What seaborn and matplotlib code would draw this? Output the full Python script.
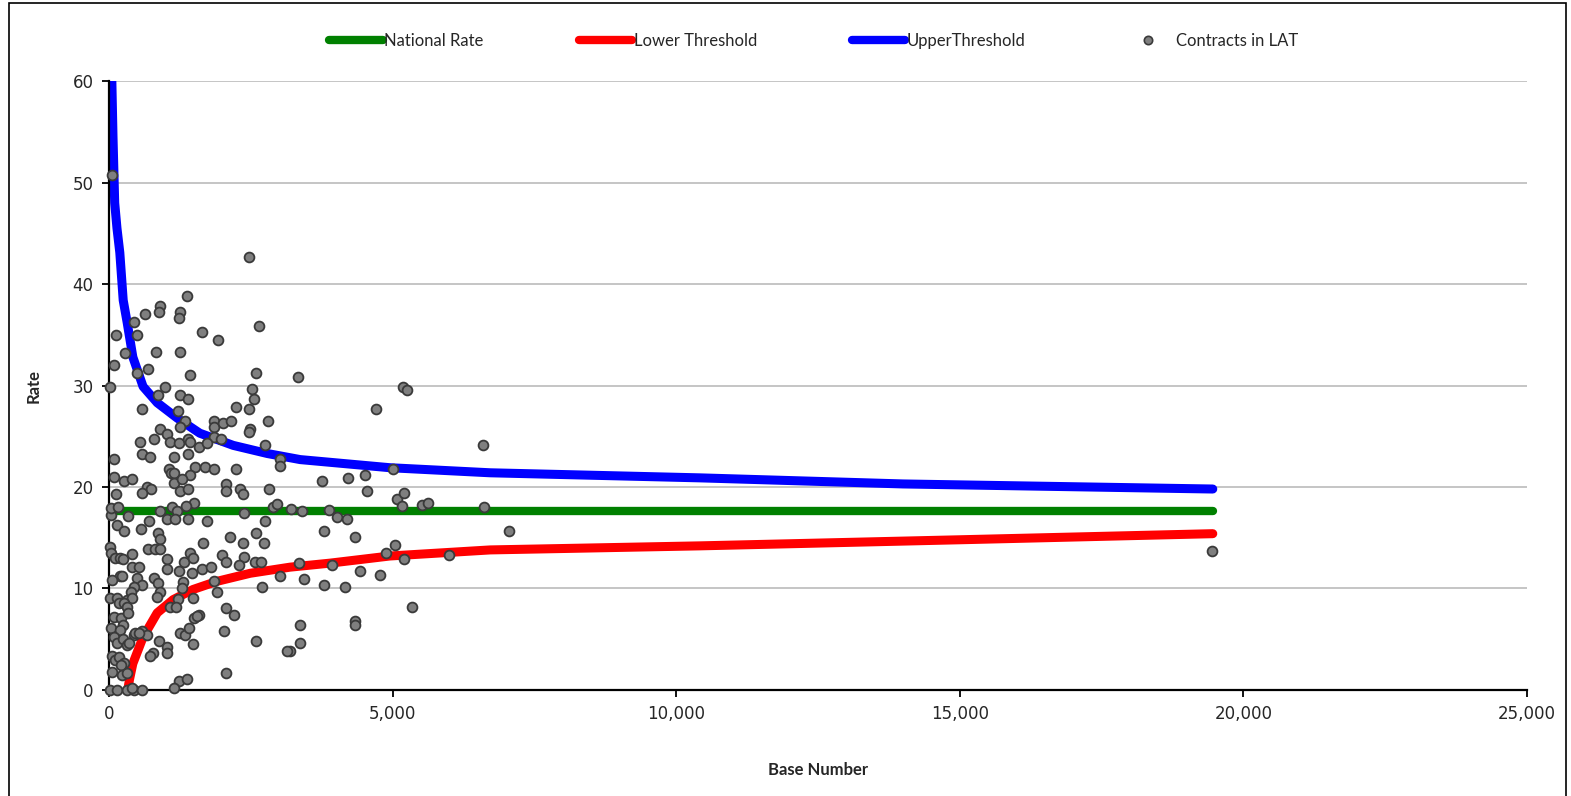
import matplotlib
matplotlib.use("Agg")
import matplotlib.pyplot as plt
from matplotlib.lines import Line2D
from matplotlib.patches import Rectangle
from matplotlib.ticker import FuncFormatter
import seaborn as sns
import pandas as pd

# Funnel limits
upper_x = [30, 50, 70, 100, 140, 190, 250, 320, 420, 600, 850, 1200, 1600, 2190, 2790, 3370,
           4950, 6720, 10420, 14000, 19460]
upper_y = [62.0, 59.9, 54.5, 48.0, 45.5, 43.1, 38.4, 36.2, 32.8, 29.9, 28.3, 26.8, 25.3, 24.1, 23.3, 22.7,
           21.9, 21.4, 20.9, 20.3, 19.8]

lower_x = [330, 360, 420, 600, 850, 1130, 1480, 1900, 2490, 3190, 3900, 4950, 6720, 10420, 15000, 19460]
lower_y = [0.0, 1.0, 2.6, 5.2, 7.6, 8.9, 9.9, 10.7, 11.5, 12.1, 12.5, 13.2, 13.8, 14.2, 14.8, 15.4]

national_x = [20, 19460]
national_y = [17.6, 17.6]

# Contracts in LAT (base number, rate)
contract_x = [
    55, 2470, 1375, 900, 880, 1250, 1235, 635, 440, 125, 495, 1640, 1920, 2645, 280, 830, 1250, 90,
    690, 495, 1430, 2590, 3330, 20, 990, 2520, 5180, 5250, 865, 1250, 1390, 2555, 580, 1215, 2240,
    2470, 4710, 1340, 1250, 1850, 1850, 2010, 2150, 2800, 900, 1020, 790, 1075, 1235, 1390, 1430,
    545, 1850, 1975, 2485, 2470, 1585, 1730, 580, 720, 1145, 1390, 2750, 3015, 3015, 90, 1060,
    1095, 1145, 1515, 1690, 1850, 2240, 1430, 90, 265, 405, 1145, 1285, 2060, 2060, 2310, 2360,
    2820, 670, 740, 580, 1250, 1390, 125, 6590, 5005, 4515, 4215, 3755, 4550, 5080, 5200, 5520,
    5625, 6610, 3400, 4020, 4195, 3790, 4335, 5040, 4885, 5200, 5995, 3350, 3930, 3440, 4425,
    4780, 3790, 4160, 5340, 4335, 4335, 3365, 3365, 3190, 7050, 19445, 35, 35, 160, 335, 900,
    1110, 1200, 1020, 1165, 1390, 1500, 1360, 1730, 2380, 2750, 2890, 2960, 705, 140, 265, 565,
    865, 900, 1655, 2135, 2360, 2590, 2730, 20, 35, 690, 810, 900, 1430, 405, 105, 195, 245, 1020,
    1320, 1480, 1990, 2060, 2380, 2290, 2575, 2680, 405, 530, 1020, 1235, 1465, 1640, 1800, 195,
    230, 495, 795, 865, 1305, 1850, 3015, 55, 580, 440, 390, 900, 845, 1285, 1905, 2700, 20, 140,
    315, 405, 1215, 1480, 175, 265, 315, 1075, 1180, 90, 210, 335, 1500, 1585, 1550, 2060, 2205,
    35, 245, 195, 440, 580, 670, 460, 530, 1250, 1340, 1410, 2030, 2590, 3140, 90, 140, 245, 315,
    350, 880, 1020, 1020, 1480, 775, 720, 55, 105, 175, 265, 210, 55, 230, 315, 1235, 1375, 2060,
    1145, 20, 140, 315, 440, 580, 405, 3210, 3880, 5170,
]
contract_y = [
    50.7, 42.7, 38.8, 37.8, 37.2, 37.2, 36.7, 37.0, 36.3, 35.0, 35.0, 35.3, 34.5, 35.9, 33.2, 33.3,
    33.3, 32.0, 31.6, 31.2, 31.0, 31.2, 30.8, 29.9, 29.9, 29.7, 29.9, 29.6, 29.1, 29.1, 28.7, 28.7,
    27.7, 27.5, 27.9, 27.7, 27.7, 26.5, 25.9, 26.5, 25.9, 26.3, 26.5, 26.5, 25.7, 25.2, 24.7, 24.4,
    24.3, 24.7, 24.4, 24.4, 24.9, 24.7, 25.7, 25.4, 23.9, 24.3, 23.3, 23.0, 23.0, 23.3, 24.1, 22.8,
    22.1, 22.8, 21.8, 21.4, 21.4, 22.0, 22.0, 21.8, 21.8, 21.2, 21.0, 20.6, 20.8, 20.4, 20.8, 20.3,
    19.6, 19.8, 19.3, 19.8, 20.0, 19.8, 19.4, 19.6, 19.8, 19.3, 24.1, 21.8, 21.2, 20.9, 20.6, 19.6,
    18.8, 19.4, 18.2, 18.4, 18.0, 17.6, 17.0, 16.8, 15.7, 15.1, 14.3, 13.5, 12.9, 13.3, 12.5, 12.3,
    10.9, 11.7, 11.3, 10.3, 10.1, 8.2, 6.8, 6.4, 6.4, 4.6, 3.8, 15.7, 13.7, 17.2, 17.9, 18.0, 17.1,
    17.6, 18.0, 17.6, 16.8, 16.8, 16.8, 18.4, 18.1, 16.6, 17.4, 16.6, 18.0, 18.3, 16.6, 16.3, 15.7,
    15.9, 15.5, 14.9, 14.5, 15.1, 14.5, 15.5, 14.5, 14.1, 13.5, 13.9, 13.9, 13.9, 13.5, 13.4, 13.0,
    13.0, 12.9, 12.9, 12.6, 13.0, 13.3, 12.6, 13.1, 12.3, 12.6, 12.6, 12.1, 12.1, 11.9, 11.7, 11.5,
    11.9, 12.1, 11.2, 11.2, 11.0, 11.0, 10.5, 10.6, 10.7, 11.2, 10.8, 10.3, 10.1, 9.7, 9.7, 9.2,
    10.0, 9.7, 10.1, 9.1, 9.1, 8.9, 9.1, 9.0, 9.1, 8.6, 8.6, 8.2, 8.2, 8.2, 7.2, 7.1, 7.6, 7.1, 7.4,
    7.3, 8.1, 7.4, 6.1, 6.4, 5.9, 5.4, 5.8, 5.4, 5.6, 5.6, 5.6, 5.4, 6.1, 5.8, 4.8, 3.8, 5.2, 4.6,
    5.0, 4.4, 4.6, 4.8, 4.2, 3.6, 4.5, 3.6, 3.3, 3.3, 3.0, 3.2, 2.7, 2.5, 1.8, 1.5, 1.7, 0.9, 1.1,
    1.7, 0.2, 0.0, 0.0, 0.0, 0.0, 0.0, 0.2, 17.8, 17.7, 18.1,
]

contracts = pd.DataFrame({"Base Number": contract_x, "Rate": contract_y})

sns.set_style("white")
plt.rcParams["font.family"] = ["DejaVu Sans"]

fig = plt.figure(figsize=(15.71, 7.96), dpi=100)
ax = fig.add_axes([0.0694, 0.1332, 0.9026, 0.765])

# Lines first, points on top
sns.lineplot(x=national_x, y=national_y, color="#008000", linewidth=6, sort=False,
             estimator=None, ax=ax, solid_capstyle="round")
sns.lineplot(x=lower_x, y=lower_y, color="#ff0000", linewidth=6.5, sort=False,
             estimator=None, ax=ax, solid_capstyle="round")
sns.lineplot(x=upper_x, y=upper_y, color="#0000ff", linewidth=6.5, sort=False,
             estimator=None, ax=ax, solid_capstyle="round")
sns.scatterplot(data=contracts, x="Base Number", y="Rate", color="#7f7f7f", edgecolor="#3a3a3a",
                linewidth=1.3, s=50, ax=ax, zorder=5, clip_on=False)

ax.set_xlim(0, 25000)
ax.set_ylim(0, 60)
ax.set_xticks(range(0, 25001, 5000))
ax.set_yticks(range(0, 61, 10))
ax.xaxis.set_major_formatter(FuncFormatter(lambda v, p: f"{int(v):,}"))
ax.yaxis.grid(True, color="#c0c0c0", linewidth=1.3)
ax.xaxis.grid(False)
ax.set_axisbelow(True)
for side in ["top", "right"]:
    ax.spines[side].set_visible(False)
for side in ["left", "bottom"]:
    ax.spines[side].set_color("black")
    ax.spines[side].set_linewidth(1.6)
ax.tick_params(axis="both", direction="out", length=5, width=1.3, color="black",
               labelsize=12, pad=6, bottom=True, left=True, labelfontfamily="DejaVu Sans")

label_font = {"family": ["Lato", "DejaVu Sans"], "weight": "bold", "size": 12}
ax.set_xlabel("Base Number", fontdict=label_font, labelpad=28)
ax.set_ylabel("Rate", fontdict=label_font, labelpad=22)

handles = [
    Line2D([], [], color="#008000", linewidth=6, solid_capstyle="round"),
    Line2D([], [], color="#ff0000", linewidth=6, solid_capstyle="round"),
    Line2D([], [], color="#0000ff", linewidth=6, solid_capstyle="round"),
    Line2D([], [], linestyle="none", marker="o", markersize=6, markerfacecolor="#7f7f7f",
           markeredgecolor="#3a3a3a", markeredgewidth=1.2),
]
fig.legend(handles, ["National Rate", "Lower Threshold", "UpperThreshold", "Contracts in LAT"],
           loc="center", bbox_to_anchor=(0.518, 0.949), ncol=4, frameon=False,
           handlelength=3.2, handletextpad=0.1, columnspacing=5.7,
           prop={"family": ["Lato", "DejaVu Sans"], "size": 12})

fig.patches.append(Rectangle((9 / 1571, -0.01), 1557 / 1571, 1.01 - 3 / 796,
                             transform=fig.transFigure, fill=False, edgecolor="black",
                             linewidth=1.2))

fig.savefig("out.png", dpi=100)
